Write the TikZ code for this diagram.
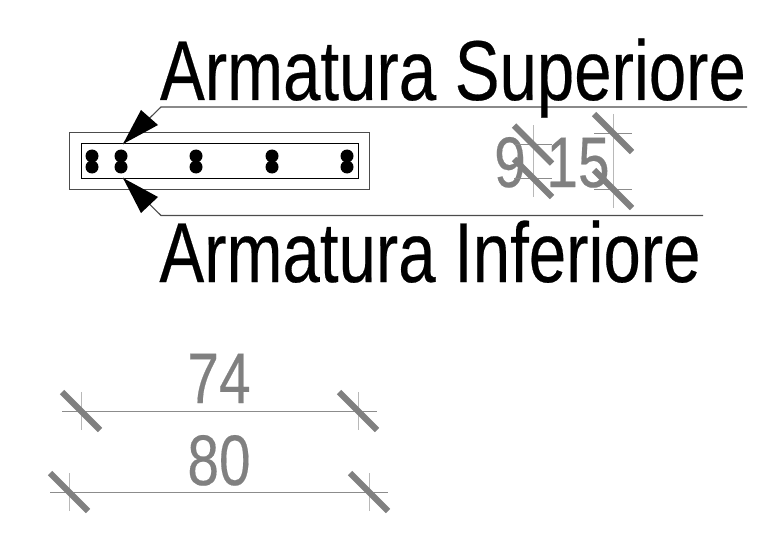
\documentclass[tikz,border=0pt]{standalone}
\usepackage{fontspec}
\setmainfont[FakeBold=0.3]{Liberation Sans}
\definecolor{dimgray}{gray}{0.5}
\definecolor{extgray}{gray}{0.72}
\tikzset{
  px/.style={x=1pt,y=-1pt},
  bigtext/.style={inner sep=0pt,anchor=base,text=black,font=\fontsize{85}{86}\selectfont,xscale=0.79},
  dimtext/.style={inner sep=0pt,anchor=base,text=dimgray,font=\fontsize{71.5}{72}\selectfont,xscale=0.795},
  outline/.style={draw=black!70,line width=1pt},
  leader/.style={draw=black!70,line width=1.1pt},
  head/.style={fill=black,draw=none},
  bar/.style={circle,fill=black,draw=none,minimum size=13pt,inner sep=0pt},
  dimline/.style={draw=black!45,line width=0.9pt},
  ext/.style={draw=extgray,line width=1pt},
  slash/.style={draw=dimgray,line width=6.3pt},
}
\newcommand{\hdim}[3]{% y, x of left tick, x of right tick
  \coordinate (L) at (#2,#1); \coordinate (R) at (#3,#1);
  \draw[dimline] ([xshift=-19pt]L) -- ([xshift=19pt]R);
  \foreach \c in {L,R}{
    \draw[ext] ([yshift=19pt]\c) -- ([yshift=-19pt]\c);
    \draw[slash] ([xshift=-19pt,yshift=19pt]\c) -- ([xshift=19pt,yshift=-19pt]\c);
  }
}
\newcommand{\vdim}[3]{% x, y of top tick, y of bottom tick
  \coordinate (T) at (#1,#2); \coordinate (B) at (#1,#3);
  \draw[ext] ([yshift=19pt]T) -- ([yshift=-19pt]B);
  \foreach \c in {T,B}{
    \draw[dimline] ([xshift=-19pt]\c) -- ([xshift=19pt]\c);
    \draw[slash] ([xshift=-19pt,yshift=19pt]\c) -- ([xshift=19pt,yshift=-19pt]\c);
  }
}
\begin{document}
\begin{tikzpicture}[px]
\useasboundingbox (0,0) rectangle (767,540);
% section
\draw[outline] (69,133) rectangle (369,189);
\draw[outline,draw=black] (81,144) rectangle (358,178);
\foreach \n/\x in {a/92,b/121,c/196,d/272,e/347}{
  \node[bar] (\n t) at (\x,156) {};
  \node[bar] (\n u) at (\x,167) {};
}
% leaders
\coordinate (tipS) at (123,144);
\coordinate (elbowS) at (161,107);
\coordinate (endS) at (747,107);
\coordinate (tipI) at (123,178);
\coordinate (elbowI) at (161,215.5);
\coordinate (endI) at (703,215.5);
\draw[leader] (tipS) -- (elbowS) -- (endS);
\draw[leader] (tipI) -- (elbowI) -- (endI);
\fill[head] (tipS) -- (158,125) -- (141,110) -- cycle;
\fill[head] (tipI) -- (158,197) -- (141,213) -- cycle;
% labels
\node[bigtext] (sup) at (453,100) {Armatura Superiore};
\node[bigtext] (inf) at (430,282) {Armatura Inferiore};
% vertical dimensions
\node[dimtext] (nine) at (510,187) {9};
\node[dimtext] (fifteen) at (578,187) {15};
\vdim{533}{144.5}{178}
\vdim{613}{133}{189}
% horizontal dimensions
\node[dimtext] (l74) at (219,403) {74};
\node[dimtext] (l80) at (219,485) {80};
\hdim{411}{81}{358}
\hdim{492}{69}{369}
\end{tikzpicture}
\end{document}
